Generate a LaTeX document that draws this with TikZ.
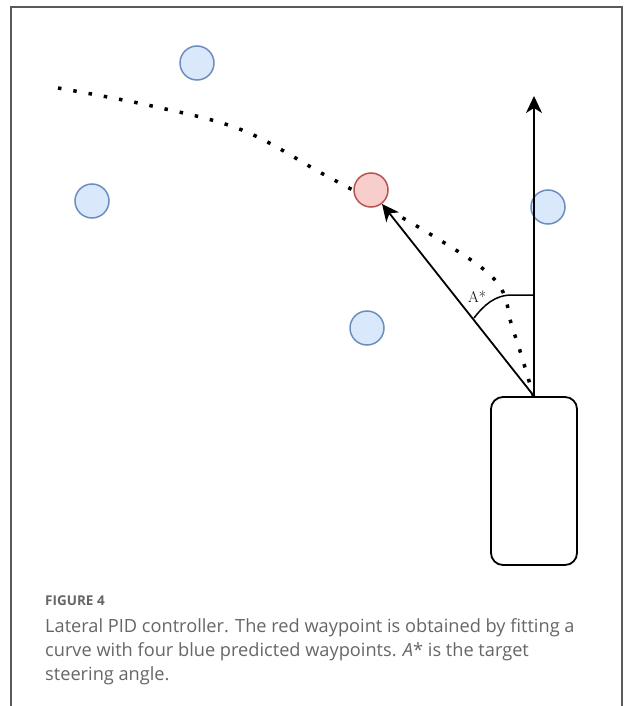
\documentclass[tikz,border=0pt]{standalone}
\usepackage{fontspec}
\newfontfamily\capfont{Open Sans}
\usetikzlibrary{arrows.meta}

\definecolor{wpblue}{HTML}{DAE8FC}
\definecolor{wpblueline}{HTML}{6C8EBF}
\definecolor{wpred}{HTML}{F8CECC}
\definecolor{wpredline}{HTML}{B85450}
\definecolor{capgray}{HTML}{666666}
\definecolor{framegray}{HTML}{5A5A5A}

\begin{document}
\begin{tikzpicture}[x=1pt,y=-1pt,
  waypt/.style={circle,draw=wpblueline,fill=wpblue,line width=1.5pt,minimum size=34pt,inner sep=0pt},
  target/.style={waypt,draw=wpredline,fill=wpred},
  track/.style={line width=3.5pt,dash pattern=on 3.5pt off 12pt},
  heading/.style={line width=1.8pt,-{Stealth[length=17pt,width=16pt,inset=5pt]}},
  captext/.style={anchor=base west,inner sep=0pt,text=capgray,font=\capfont\fontsize{18.2}{24}\selectfont}]
  \useasboundingbox (0,0) rectangle (624,706);
  \draw[framegray,line width=1.2pt] (11,706) -- (11,7) -- (622,7) -- (622,706);

  % fitted path through the predicted points
  \draw[track] plot[smooth,tension=0.6] coordinates
    {(58,88) (152,106) (242,130) (323,174) (371,200) (430,234) (482,268)
     (503,292) (511,323) (521,354) (534,398)};

  % vehicle and waypoints
  \node[draw,line width=1.8pt,rounded corners=12pt,minimum width=86pt,minimum height=168pt] (car) at (534,481) {};
  \node[waypt] (w1) at (197,63) {};
  \node[waypt] (w2) at (92,201) {};
  \node[waypt] (w3) at (548,207) {};
  \node[waypt] (w4) at (367,328) {};
  \node[target] (wt) at (371,190) {};

  \coordinate (ahead) at (534,96);
  \draw[heading] (car.north) -- (ahead);
  \draw[heading] (car.north) -- (wt);

  % steering angle
  \draw[line width=1.5pt] (534,295) -- (512,295) .. controls (495,295) and (484,305) .. (474,318);
  \node[font=\fontsize{15.5}{15.5}\selectfont] (ang) at (477,297) {A*};

  \node[captext,font=\capfont\bfseries\fontsize{13.5}{14}\selectfont] (fig) at (45,605) {FIGURE 4};
  \node[captext] (cap1) at (45,632) {Lateral PID controller. The red waypoint is obtained by fitting a};
  \node[captext] (cap2) at (45,656) {curve with four blue predicted waypoints. \textit{A}* is the target};
  \node[captext] (cap3) at (45,680) {steering angle.};
\end{tikzpicture}
\end{document}
